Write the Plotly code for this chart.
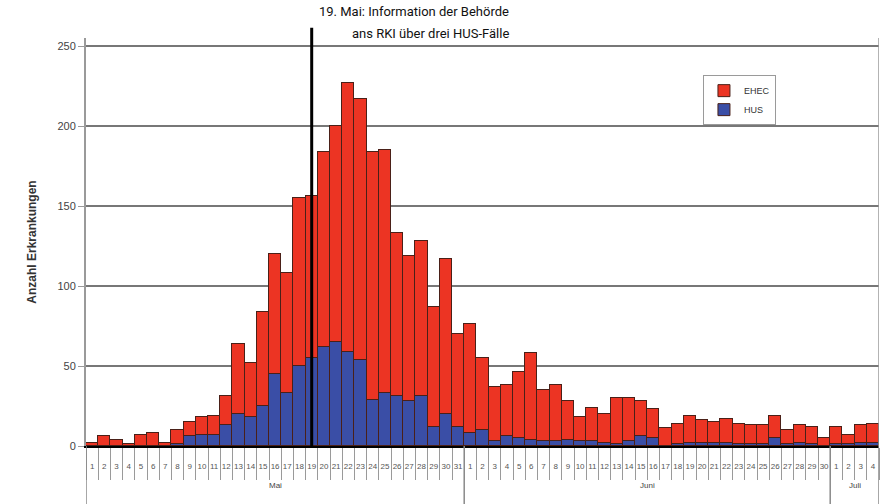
import plotly.graph_objects as go

# ---- data ----
months = ["Mai", "Juni", "Juli"]
month_days = [31, 30, 4]

total_may = [2, 6, 4, 1, 7, 8, 2, 10, 15, 18, 19, 31, 64, 52, 84, 120, 108, 155, 156, 184,
             200, 227, 217, 184, 185, 133, 119, 128, 87, 117, 70]
hus_may = [0, 0, 0, 0, 0, 0, 0, 1, 6, 7, 7, 13, 20, 18, 25, 45, 33, 50, 55, 62,
           65, 59, 54, 29, 33, 31, 28, 31, 12, 20, 12]
total_jun = [76, 55, 37, 38, 46, 58, 35, 38, 28, 18, 24, 20, 30, 30, 28, 23, 11, 14, 19, 16,
             15, 17, 14, 13, 13, 19, 10, 13, 12, 5]
hus_jun = [8, 10, 3, 6, 5, 4, 3, 3, 4, 3, 3, 2, 1, 3, 6, 5, 0, 1, 2, 2,
           2, 2, 1, 1, 1, 5, 1, 2, 1, 0]
total_jul = [12, 7, 13, 14]
hus_jul = [1, 1, 2, 2]

event_label_1 = "19. Mai: Information der Behörde"
event_label_2 = "ans RKI über drei HUS-Fälle"
event_month, event_day = 0, 19

# ---- derived ----
total = total_may + total_jun + total_jul
hus = hus_may + hus_jun + hus_jul
ehec = [t - h for t, h in zip(total, hus)]
day_labels = [str(d) for m in month_days for d in range(1, m + 1)]
xs = list(range(len(total)))
event_idx = sum(month_days[:event_month]) + event_day - 1

RED = "#ec3423"
BLUE = "#3a4ea6"
OUT = "#4a2018"

fig = go.Figure()
fig.add_trace(go.Bar(x=xs, y=hus, name="HUS", marker=dict(color=BLUE, line=dict(color=OUT, width=1)),
                     legendrank=2))
fig.add_trace(go.Bar(x=xs, y=ehec, name="EHEC", marker=dict(color=RED, line=dict(color=OUT, width=1)),
                     legendrank=1))

shapes = []
annotations = []
# month separators and labels
start = 0
bounds = [-0.5]
for m, nd in zip(months, month_days):
    annotations.append(dict(x=start + (nd - 1) / 2, y=-0.113, xref="x", yref="paper", text=m,
                            showarrow=False, font=dict(size=8, color="#444", family="Liberation Sans")))
    start += nd
    bounds.append(start - 0.5)
for b in bounds:
    shapes.append(dict(type="line", xref="x", yref="paper", x0=b, x1=b, y0=0, y1=-0.142,
                       line=dict(color="#8a8a8a", width=1.5)))
# right border
shapes.append(dict(type="line", xref="x", yref="paper", x0=bounds[-1], x1=bounds[-1], y0=0, y1=1,
                   line=dict(color="#9a9a9a", width=1.5)))
# event line
shapes.append(dict(type="line", xref="x", yref="paper", x0=event_idx, x1=event_idx, y0=0, y1=1.025,
                   line=dict(color="black", width=3)))

annotations.append(dict(x=event_idx + 16.3, y=1.064, xref="x", yref="paper", text=event_label_1,
                        showarrow=False, xanchor="right", yanchor="middle",
                        font=dict(size=13, color="#111", family="Liberation Sans Narrow, Roboto, sans-serif")))
annotations.append(dict(x=event_idx + 16.3, y=1.012, xref="x", yref="paper", text=event_label_2,
                        showarrow=False, xanchor="right", yanchor="middle",
                        font=dict(size=13, color="#111", family="Liberation Sans Narrow, Roboto, sans-serif")))

fig.update_layout(
    width=884, height=504,
    margin=dict(l=86, r=5, t=38, b=58),
    barmode="stack", bargap=0,
    plot_bgcolor="white", paper_bgcolor="white",
    font=dict(family="Liberation Sans, Arial, sans-serif", color="#333"),
    shapes=shapes, annotations=annotations,
    legend=dict(x=0.778, y=0.909, xanchor="left", yanchor="top", bgcolor="white",
                bordercolor="#9a9a9a", borderwidth=1, font=dict(size=9, color="#333"),
                itemwidth=30, traceorder="normal", tracegroupgap=2),
    showlegend=True,
)
fig.update_xaxes(range=[-0.5, len(total) - 0.5], tickmode="array", tickvals=xs, ticktext=day_labels,
                 tickangle=0, tickfont=dict(size=8, color="#555"), ticks="outside", ticklen=11,
                 tickcolor="rgba(0,0,0,0)", showgrid=False, showline=True, linecolor="black", linewidth=2,
                 minor=dict(ticks="outside", tick0=-0.5, dtick=1, ticklen=32, tickcolor="#9a9a9a", tickwidth=1),
                 zeroline=False, automargin=False)
fig.update_yaxes(range=[0, 255], tickvals=[0, 50, 100, 150, 200, 250], tickfont=dict(size=11, color="#444"),
                 showgrid=True, gridcolor="#777", gridwidth=2, showline=True, linecolor="#9a9a9a", linewidth=2,
                 ticks="outside", ticklen=6, tickcolor="#9a9a9a", zeroline=False, automargin=False,
                 title=dict(text="<b>Anzahl Erkrankungen</b>", font=dict(size=12, color="#333"), standoff=18))

fig.write_html("out.html", config={"displayModeBar": False},
               post_script="document.body.style.margin='0';document.body.style.overflow='hidden';")
